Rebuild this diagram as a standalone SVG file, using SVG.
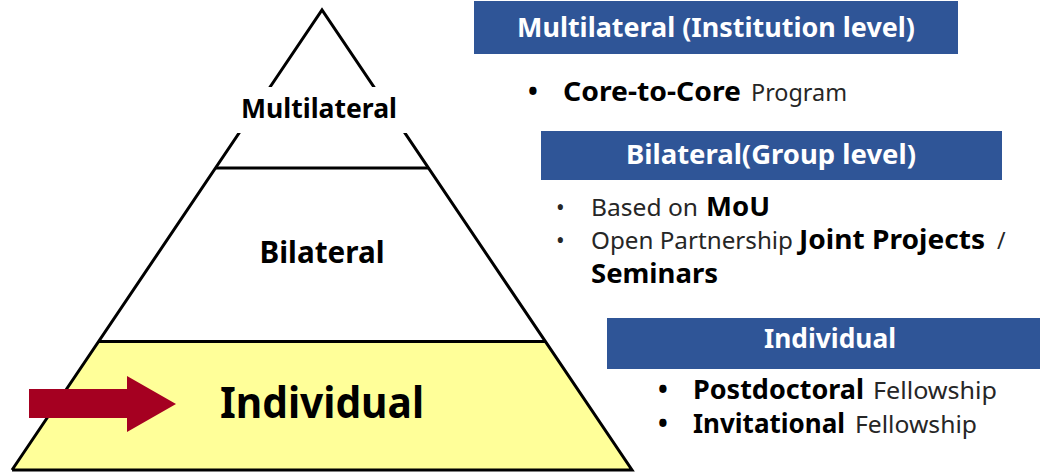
<svg xmlns="http://www.w3.org/2000/svg" width="1040" height="472" viewBox="0 0 1040 472">
<style>
.lbl{font-family:"Noto Sans","Liberation Sans",sans-serif;font-weight:bold;fill:#000;text-anchor:middle}
.hdr{font-family:"Noto Sans","Liberation Sans",sans-serif;font-weight:bold;fill:#fff;font-size:26px;text-anchor:middle}
.b{font-family:"Noto Sans","Liberation Sans",sans-serif;font-weight:bold;fill:#000;font-size:26px}
.r{font-family:"Noto Sans","Liberation Sans",sans-serif;fill:#262626;font-size:23px}
.hbox{fill:#2F5597}
.edge{stroke:#000;stroke-width:3;fill:none}
</style>
<rect width="1040" height="472" fill="#fff"/>
<g id="pyramid">
  <polygon points="99,341.5 545,341.5 632,470 12,470" fill="#FFFF99"/>
  <polyline class="edge" points="12,470 322,10 632,470 12,470"/>
  <line class="edge" x1="215.5" y1="168" x2="428.5" y2="168"/>
  <line class="edge" x1="99" y1="341.5" x2="545" y2="341.5"/>
</g>
<g id="tier-multilateral">
  <rect x="228" y="87" width="190" height="46" fill="#fff"/>
  <text class="lbl" x="319" y="118" font-size="27" textLength="156" lengthAdjust="spacingAndGlyphs">Multilateral</text>
</g>
<g id="tier-bilateral">
  <text class="lbl" x="322" y="263" font-size="31" textLength="125" lengthAdjust="spacingAndGlyphs">Bilateral</text>
</g>
<g id="tier-individual">
  <text class="lbl" x="322" y="418" font-size="43" textLength="204" lengthAdjust="spacingAndGlyphs">Individual</text>
</g>
<g id="arrow">
  <polygon points="29,389 127,389 127,376 176,404 127,432 127,418 29,418" fill="#A50021"/>
</g>
<g id="box-multilateral">
  <rect class="hbox" x="474" y="1" width="484" height="53"/>
  <text class="hdr" x="716" y="37" textLength="398" lengthAdjust="spacingAndGlyphs">Multilateral (Institution level)</text>
  <text class="b" x="528" y="101">•</text>
  <text class="b" x="563" y="101" textLength="178" lengthAdjust="spacingAndGlyphs">Core-to-Core</text>
  <text class="r" x="751" y="101" textLength="96" lengthAdjust="spacingAndGlyphs">Program</text>
</g>
<g id="box-bilateral">
  <rect class="hbox" x="541" y="131" width="461" height="49"/>
  <text class="hdr" x="771" y="164" textLength="290" lengthAdjust="spacingAndGlyphs">Bilateral(Group level)</text>
  <text class="r" x="556" y="216" font-size="19">•</text>
  <text class="r" x="591" y="216" textLength="107" lengthAdjust="spacingAndGlyphs">Based on</text>
  <text class="b" x="706" y="216" textLength="64" lengthAdjust="spacingAndGlyphs">MoU</text>
  <text class="r" x="556" y="249" font-size="19">•</text>
  <text class="r" x="591" y="249" textLength="202" lengthAdjust="spacingAndGlyphs">Open Partnership</text>
  <text class="b" x="799" y="249" textLength="186" lengthAdjust="spacingAndGlyphs">Joint Projects</text>
  <text class="r" x="997" y="249">/</text>
  <text class="b" x="591" y="283" textLength="127" lengthAdjust="spacingAndGlyphs">Seminars</text>
</g>
<g id="box-individual">
  <rect class="hbox" x="607" y="318" width="433" height="51"/>
  <text class="hdr" x="830" y="348" textLength="132" lengthAdjust="spacingAndGlyphs">Individual</text>
  <text class="b" x="658" y="399">•</text>
  <text class="b" x="693" y="399" textLength="171" lengthAdjust="spacingAndGlyphs">Postdoctoral</text>
  <text class="r" x="873" y="399" textLength="124" lengthAdjust="spacingAndGlyphs">Fellowship</text>
  <text class="b" x="658" y="433">•</text>
  <text class="b" x="693" y="433" textLength="152" lengthAdjust="spacingAndGlyphs">Invitational</text>
  <text class="r" x="855" y="433" textLength="122" lengthAdjust="spacingAndGlyphs">Fellowship</text>
</g>
<g id="connectors"></g>
</svg>
